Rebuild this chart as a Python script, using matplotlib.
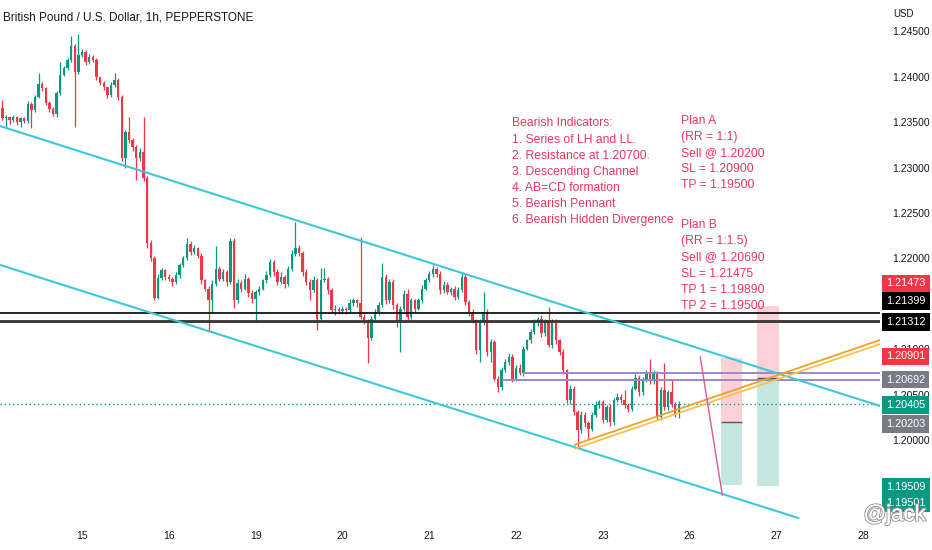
import matplotlib
matplotlib.use("Agg")
import matplotlib.pyplot as plt
import matplotlib.patheffects as pe
from matplotlib.patches import Rectangle
from matplotlib import transforms
import numpy as np

# GBPUSD 1h, Dec 14 02:00 .. Dec 23 21:00 (x = hours from Dec 15 00:00, weekends skipped)
first_open = 1.2365
closes = [
    # 14
    1.2354, 1.2356, 1.2352, 1.2355, 1.2350, 1.2354, 1.2351, 1.2370, 1.2363, 1.2377, 1.2392,
    1.2387, 1.2371, 1.2364, 1.2359, 1.2382, 1.2402, 1.2409, 1.2418, 1.2433, 1.2405, 1.2424,
    # 15
    1.2427, 1.2416, 1.2422, 1.2418, 1.2399, 1.2393, 1.2388, 1.2380, 1.2391, 1.2396, 1.2377, 1.2311,
    1.2339, 1.2330, 1.2322, 1.2310, 1.2317, 1.2289, 1.2217, 1.2201, 1.2157, 1.2179, 1.2187, 1.2180,
    # 16
    1.2178, 1.2174, 1.2182, 1.2193, 1.2200, 1.2216, 1.2207, 1.2211, 1.2203, 1.2176, 1.2167, 1.2154,
    1.2172, 1.2189, 1.2178, 1.2185, 1.2174, 1.2219, 1.2154, 1.2173, 1.2167, 1.2178, 1.2162, 1.2156,
    # 19
    1.2163, 1.2167, 1.2176, 1.2182, 1.2196, 1.2185, 1.2174, 1.2180, 1.2172, 1.2189, 1.2205, 1.2212,
    1.2206, 1.2185, 1.2174, 1.2165, 1.2176, 1.2134, 1.2176, 1.2178, 1.2165, 1.2143, 1.2145, 1.2142,
    # 20
    1.2145, 1.2143, 1.2151, 1.2154, 1.2151, 1.2136, 1.2132, 1.2113, 1.2134, 1.2141, 1.2149, 1.2180,
    1.2154, 1.2174, 1.2149, 1.2130, 1.2145, 1.2161, 1.2136, 1.2154, 1.2145, 1.2154, 1.2167, 1.2176,
    # 21
    1.2183, 1.2189, 1.2183, 1.2165, 1.2171, 1.2163, 1.2167, 1.2158, 1.2165, 1.2180, 1.2152, 1.2141,
    1.2132, 1.2099, 1.2130, 1.2141, 1.2097, 1.2108, 1.2068, 1.2059, 1.2077, 1.2086, 1.2092, 1.2068,
    # 22
    1.2080, 1.2074, 1.2101, 1.2110, 1.2119, 1.2129, 1.2133, 1.2118, 1.2130, 1.2105, 1.2130, 1.2110,
    1.2097, 1.2077, 1.2044, 1.2057, 1.2031, 1.2011, 1.2028, 1.2019, 1.2013, 1.2028, 1.2039, 1.2042,
    # 23
    1.2022, 1.2037, 1.2020, 1.2044, 1.2048, 1.2044, 1.2039, 1.2035, 1.2057, 1.2069, 1.2053,
    1.2066, 1.2075, 1.2065, 1.2073, 1.2026, 1.2055, 1.2037, 1.2053, 1.2040, 1.2029, 1.2040,
]
# wick length beyond the body, in pips
wick_hi = [
    9, 2, 1, 3, 2, 1, 2, 3, 2, 3, 12, 2, 1, 2, 3, 2, 14, 3, 2, 12, 3, 23,
    3, 2, 3, 2, 2, 1, 2, 1, 3, 8, 2, 3, 2, 17, 2, 3, 4, 38, 2, 3, 2, 4, 3, 2,
    3, 2, 3, 2, 3, 7, 3, 4, 2, 3, 2, 3, 4, 25, 3, 4, 2, 3, 3, 4, 3, 5, 2, 3,
    2, 3, 2, 4, 3, 2, 3, 5, 2, 3, 4, 28, 3, 2, 3, 4, 5, 3, 14, 12, 2, 3, 4, 2,
    3, 2, 4, 3, 2, 73, 3, 2, 3, 4, 3, 15, 3, 4, 3, 2, 3, 4, 6, 3, 2, 3, 4, 3,
    3, 4, 2, 3, 4, 3, 2, 3, 4, 4, 3, 2, 3, 2, 4, 22, 3, 4, 2, 3, 4, 3, 4, 3,
    3, 4, 3, 2, 3, 4, 3, 5, 3, 17, 4, 3, 2, 3, 2, 4, 3, 2, 4, 3, 2, 3, 4, 3,
    3, 2, 3, 3, 4, 3, 11, 2, 3, 4, 3, 4, 3, 15, 4, 3, 4, 30, 3, 15, 2, 3,
]
wick_lo = [
    2, 11, 4, 2, 3, 6, 2, 2, 20, 2, 1, 3, 2, 3, 2, 3, 2, 1, 2, 2, 60, 2,
    2, 3, 2, 2, 3, 2, 3, 4, 2, 2, 3, 4, 11, 3, 4, 24, 3, 4, 5, 4, 3, 2, 3, 4,
    3, 4, 2, 3, 2, 2, 3, 2, 3, 4, 3, 35, 13, 2, 3, 3, 4, 2, 8, 3, 4, 2, 4, 5,
    26, 3, 2, 3, 2, 4, 3, 2, 4, 2, 3, 2, 3, 4, 3, 11, 2, 13, 3, 2, 4, 3, 5, 3,
    3, 4, 2, 3, 4, 3, 4, 28, 3, 2, 3, 2, 4, 3, 4, 5, 33, 3, 4, 3, 4, 2, 3, 2,
    2, 3, 3, 4, 3, 2, 3, 4, 3, 2, 3, 4, 3, 4, 13, 3, 4, 11, 3, 6, 3, 2, 3, 4,
    3, 2, 3, 2, 3, 2, 3, 4, 3, 2, 3, 4, 3, 4, 3, 4, 3, 19, 3, 4, 11, 3, 2, 3,
    3, 2, 4, 3, 2, 3, 3, 4, 3, 2, 4, 3, 2, 3, 3, 4, 3, 3, 4, 3, 3, 4,
]
start_hour = -22

day_labels = ["15", "16", "19", "20", "21", "22", "23", "26", "27", "28"]
price_ticks = [1.200, 1.205, 1.210, 1.215, 1.220, 1.225, 1.230, 1.235, 1.240, 1.245]

# drawings (hour, price)
channel_top = [(-22.67, 1.23456), (220.6, 1.20379)]
channel_bottom = [(-22.67, 1.21929), (198.0, 1.19148)]
support_a = [(136.3, 1.19955), (220.6, 1.21104)]
support_b = [(136.3, 1.19911), (220.6, 1.21060)]
cd_leg = [(170.9, 1.20918), (177.0, 1.19401)]
black_levels = [1.21399, 1.21312]
purple_levels = [1.20740, 1.20665]
purple_starts = [122, 116]
last_price = 1.20405

# position tools: stop, entry, target
plan_a_hours = [176.7, 182.5]
plan_a_levels = [1.20901, 1.20203, 1.19509]
plan_b_hours = [186.6, 192.7]
plan_b_levels = [1.21473, 1.20692, 1.19501]

scale_labels = ["1.21473", "1.21399", "1.21312", "1.20901", "1.20692",
                "1.20405", "1.20203", "1.19509", "1.19501"]
scale_colors = ["#f23645", "#000000", "#000000", "#f23645", "#787b86",
                "#089981", "#787b86", "#089981", "#089981"]
scale_nudge_px = [-23, -12, 1, -2, 2, 1, 2, 2, 17]

notes_left = ["Bearish Indicators:", "1. Series of LH and LL.", "2. Resistance at 1.20700.",
              "3. Descending Channel", "4. AB=CD formation", "5. Bearish Pennant",
              "6. Bearish Hidden Divergence"]
notes_plan_a = ["Plan A", "(RR = 1:1)", "Sell @ 1.20200", "SL = 1.20900", "TP = 1.19500"]
notes_plan_b = ["Plan B", "(RR = 1:1.5)", "Sell @ 1.20690", "SL = 1.21475",
                "TP 1 = 1.19890", "TP 2 = 1.19500"]

GREEN = "#089981"
RED = "#f23645"
CYAN = "#3cc8d6"
NOTE = "#e5395f"
INK = "#131722"

plt.rcParams["font.family"] = ["Liberation Sans Narrow", "Liberation Sans", "DejaVu Sans"]

fig = plt.figure(figsize=(9.32, 5.5), dpi=100)
ax = fig.add_axes([0, 30 / 550, 880 / 932, 520 / 550])
ax.set_xlim(-22.67, 220.6)
ax.set_ylim(1.19126, 1.24841)
for s in ax.spines.values():
    s.set_visible(False)

# candles
c = np.array(closes)
o = np.r_[first_open, c[:-1]]
hours = np.arange(start_hour, start_hour + len(c))
hi = np.maximum(o, c) + np.array(wick_hi) * 1e-4
lo = np.minimum(o, c) - np.array(wick_lo) * 1e-4
cols = np.where(c >= o, GREEN, RED)
ax.vlines(hours, lo, hi, colors=cols, lw=0.9, zorder=2)
body = np.where(np.abs(c - o) < 4e-5, 4e-5, c - o)
ax.bar(hours, body, bottom=o, width=0.66, color=cols, linewidth=0, zorder=2.1)

# levels
ax.axhline(black_levels[0], color="black", lw=1.2, zorder=3)
ax.axhline(black_levels[1], color="#333333", lw=2.0, zorder=3)
for lvl, x0 in zip(purple_levels, purple_starts):
    ax.hlines(lvl, x0, 220.6, color="#9c88c9", lw=1.4, zorder=3)
ax.axhline(last_price, color=GREEN, lw=1.0, ls=(0, (1, 2)), zorder=3)

# trend lines
for line in (channel_top, channel_bottom):
    xs, ys = zip(*line)
    ax.plot(xs, ys, color=CYAN, lw=1.5, zorder=3)
xs, ys = zip(*support_a)
ax.plot(xs, ys, color="#f0a02a", lw=1.3, zorder=3)
xs, ys = zip(*support_b)
ax.plot(xs, ys, color="#f8c24a", lw=1.3, zorder=3)
xs, ys = zip(*cd_leg)
ax.plot(xs, ys, color="#e0559c", lw=1.0, zorder=3)

# position boxes
for hrs, (stop, entry, target) in ((plan_a_hours, plan_a_levels), (plan_b_hours, plan_b_levels)):
    w = hrs[1] - hrs[0]
    ax.add_patch(Rectangle((hrs[0], entry), w, stop - entry, fc="#fbd0d7", ec="none", zorder=2.5))
    ax.add_patch(Rectangle((hrs[0], target), w, entry - target, fc="#c4e8e1", ec="none", zorder=2.5))
    ax.hlines(entry, hrs[0], hrs[1], color="#555555", lw=1.0, zorder=2.6)

# notes
ax.text(118.9, 1.2355, "\n".join(notes_left), color=NOTE, fontsize=8.7, va="top",
        linespacing=1.45, zorder=4)
ax.text(165.6, 1.2358, "\n".join(notes_plan_a), color=NOTE, fontsize=8.7, va="top",
        linespacing=1.45, zorder=4)
ax.text(165.6, 1.2243, "\n".join(notes_plan_b), color=NOTE, fontsize=8.7, va="top",
        linespacing=1.45, zorder=4)

# axes
ax.set_xticks([24 * i for i in range(len(day_labels))])
ax.set_xticklabels(day_labels)
ax.yaxis.tick_right()
ax.set_yticks(price_ticks)
ax.set_yticklabels([f"{p:.5f}" for p in price_ticks])
ax.tick_params(axis="x", length=0, pad=8, labelsize=7.5, labelcolor=INK)
ax.tick_params(axis="y", length=0, pad=9, labelsize=7.5, labelcolor=INK)

trans = transforms.blended_transform_factory(ax.transAxes, ax.transData)
for txt, col, nud in zip(scale_labels, scale_colors, scale_nudge_px):
    ax.annotate(txt, xy=(1, float(txt)), xycoords=trans, xytext=(4.5, -nud * 0.72),
                textcoords="offset points", color="white", fontsize=7.8, va="center",
                ha="left", annotation_clip=False, zorder=5,
                bbox=dict(boxstyle="square,pad=0.36", fc=col, ec="none"))

fig.text(3 / 932, 1 - 18 / 550, "British Pound / U.S. Dollar, 1h, PEPPERSTONE",
         fontsize=8.5, color=INK, va="center", ha="left")
fig.text(893 / 932, 1 - 14 / 550, "USD", fontsize=7, color=INK, va="center", ha="left")
fig.text(1 - 6 / 932, 1 - 515 / 550, "@jack", fontsize=16, color="white", ha="right",
         va="center", zorder=10,
         path_effects=[pe.withStroke(linewidth=1.6, foreground="#9a9a9a"), pe.Normal()])

fig.savefig("out.png", dpi=100, facecolor="white")
